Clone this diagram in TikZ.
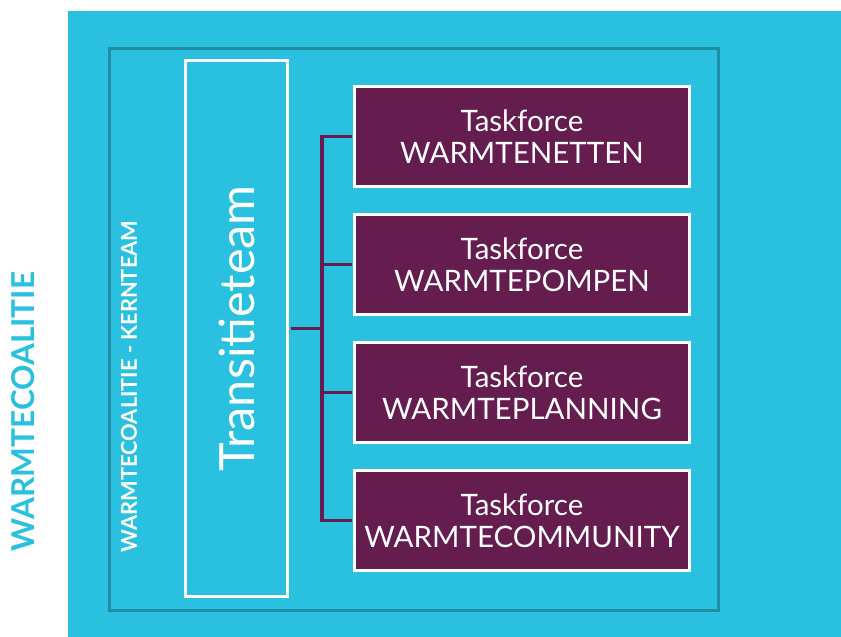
\documentclass[tikz,border=0pt]{standalone}
\usepackage{fontspec}
\setmainfont{Lato}
\definecolor{cyanbg}{HTML}{29C1DF}
\definecolor{tealb}{HTML}{1F8EA3}
\definecolor{purp}{HTML}{651C4F}
\tikzset{
  tfbox/.style={draw=white, line width=3pt, fill=purp, text=white, minimum width=335pt, minimum height=100pt, align=center, inner sep=0pt, font=\fontsize{29.5}{32}\selectfont},
  ttbox/.style={draw=white, line width=3pt, minimum width=102pt, minimum height=536pt, inner sep=0pt},
  conn/.style={draw=purp, line width=3.5pt},
}
\begin{document}
\begin{tikzpicture}[x=1pt,y=1pt]
\useasboundingbox (0,0) rectangle (841,637);
\fill[cyanbg] (68,0) rectangle (841,626);
\draw[tealb, line width=3.5pt] (109.5,588.5) rectangle (718.5,26.5);
\node[rotate=90, text=cyanbg, font=\bfseries\fontsize{31.5}{31.5}\selectfont] (wc) at (23,225.5) {WARMTECOALITIE};
\node[rotate=90, text=white, font=\bfseries\fontsize{21.8}{21.8}\selectfont] (kt) at (129,250.5) {WARMTECOALITIE - KERNTEAM};
\node[ttbox] (tt) at (236.5,308.5) {};
\node[rotate=90, text=white, font=\fontsize{48.5}{48.5}\selectfont] (ttl) at (tt) {Transitieteam};
\node[tfbox] (t1) at (522,500.5) {Taskforce\\WARMTENETTEN};
\node[tfbox] (t2) at (522,372.5) {Taskforce\\WARMTEPOMPEN};
\node[tfbox] (t3) at (522,244.5) {Taskforce\\WARMTEPLANNING};
\node[tfbox] (t4) at (522,116.5) {Taskforce\\WARMTECOMMUNITY};
\coordinate (j) at (322,308.5);
\draw[conn, shorten <=1.5pt] (tt.east) -- (j);
\draw[conn, shorten <=1.5pt, shorten >=1.5pt] (t1.west) -| (j) |- (t4.west);
\draw[conn, shorten <=1.5pt] (t2.west) -- (t2.west -| j);
\draw[conn, shorten <=1.5pt] (t3.west) -- (t3.west -| j);
\end{tikzpicture}
\end{document}
